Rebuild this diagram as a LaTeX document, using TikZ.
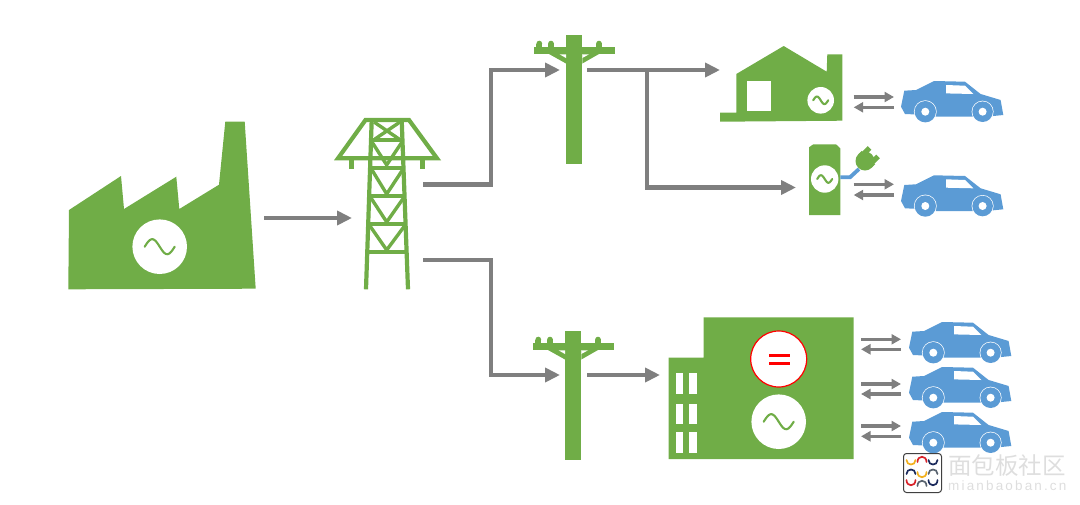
\documentclass[tikz,border=0pt]{standalone}
\usepackage{fontspec}
\newfontfamily\cjkfont{Noto Sans CJK SC}
\setsansfont{Liberation Sans}
\usetikzlibrary{arrows.meta}
\definecolor{gridgreen}{HTML}{70AD47}
\definecolor{carblue}{HTML}{5B9BD5}
\definecolor{flowgrey}{HTML}{7F7F7F}
\definecolor{markgrey}{HTML}{DEDEDE}
\definecolor{logonavy}{HTML}{1B2A5C}
\definecolor{logored}{HTML}{D8232A}
\definecolor{logoyellow}{HTML}{F2B01E}
\definecolor{logogrey}{HTML}{5A6470}
\tikzset{
  mainflow/.style={draw=flowgrey,line width=4.6pt,-{Triangle[length=15pt,width=14pt]}},
  smallflow/.style={draw=flowgrey,line width=3.2pt,-{Triangle[length=9.5pt,width=10pt]}},
  greenshape/.style={fill=gridgreen,draw=none},
  acdisc/.style={circle,fill=white,draw=none,inner sep=0pt},
  strut/.style={draw=gridgreen,line width=4.2pt,line cap=butt,line join=miter},
  brace/.style={draw=gridgreen,line width=3.4pt,line cap=butt,line join=miter},
  logoarc/.style={line width=1.7pt,line cap=round},
  acwave/.pic={
    \draw[gridgreen,line width=2.1pt,line cap=round]
      plot[domain=-15:15,samples=41,smooth] (\x,{7.5*sin(\x*12)});
  },
  utilitypole/.pic={
    \fill[gridgreen] (566,35) rectangle (582.3,164);
    \fill[gridgreen] (534,46.7) rectangle (615,54.3);
    \foreach \bx in {539.3,551,599}{
      \fill[gridgreen] (\bx-2.9,43.6) rectangle (\bx+2.9,47);
      \fill[gridgreen] (\bx,43.6) circle[radius=2.9];
    }
    \fill[gridgreen] (549,54) -- (566,63.5) -- (566,54) -- cycle;
    \fill[gridgreen] (599,54) -- (582.3,63.5) -- (582.3,54) -- cycle;
    \fill[white] (559.5,54.3) -- (566,54.3) -- (566,58) -- cycle;
    \fill[white] (589,54.3) -- (582.3,54.3) -- (582.3,58) -- cycle;
  },
  evcar/.pic={
    \fill[carblue] (-24.3,-5) -- (-21,-21) -- (-9.3,-21.7) -- (8.7,-30.7) -- (39.7,-30)
      -- (55.3,-17.7) -- (75.3,-11.7) -- (78,3.3) -- (68,4.3) -- (48,5) -- (10.3,5)
      -- (-11.3,2.7) -- (-20.3,2.3) -- cycle;
    \fill[white] (20.7,-26.7) -- (39.7,-26) -- (48,-17.7) -- (20.7,-18.3) -- cycle;
    \fill[white] (0,0) circle[radius=11.4];
    \fill[white] (57.3,0) circle[radius=11];
    \fill[carblue] (0,0) circle[radius=10.7];
    \fill[carblue] (57.3,0) circle[radius=10.3];
    \fill[white] (0,0) circle[radius=4];
    \fill[white] (57.3,0) circle[radius=4];
  }
}
% A half-wave stroke of the publisher mark: colour, left x, y, bulge (negative = upward)
\newcommand{\markstroke}[4]{%
  \draw[logoarc,#1] (#2,#3) .. controls (#2,#3+#4) and (#2+9,#3+#4) .. (#2+9,#3);%
}
\begin{document}
\begin{tikzpicture}[x=1pt,y=-1pt]
\useasboundingbox (0,0) rectangle (1080,504);

% Generating plant
\fill[greenshape] (68.3,289.3) -- (69,210) -- (121,176) -- (124,209) -- (176.3,176.7)
  -- (179.3,209) -- (219,184.7) -- (225.3,121.7) -- (244.7,121.7) -- (255.7,288.7) -- cycle;
\node[acdisc,minimum size=54.6pt] (plantdisc) at (159.7,246.7) {};
\pic at (plantdisc.center) {acwave};

% Transmission tower
\draw[strut,line join=miter] (338,158.3) -- (365.5,120) -- (409,120) -- (437,158.3) -- cycle;
\fill[gridgreen] (349,160) rectangle (354,168.5);
\fill[gridgreen] (420,160) rectangle (425,168.5);
\draw[strut] (371.7,120) -- (366,289.3);
\draw[strut] (401.7,120) -- (408,289.3);
\draw[strut] (371.3,140) -- (402.5,140);
\draw[strut] (370,168.3) -- (403.5,168.3);
\draw[strut] (369,196) -- (404.5,196);
\draw[strut] (368.3,224) -- (405.5,224);
\draw[strut] (367.3,251.7) -- (406.5,251.7);
\draw[brace] (374,122) -- (399,139);
\draw[brace] (400,122) -- (375,139);
\draw[brace] (372,142) -- (386.7,165) -- (402,142);
\draw[brace] (372,170) -- (386.7,194) -- (402.5,170);
\draw[brace] (371,198) -- (386.7,222) -- (403.5,198);
\draw[brace] (370,226) -- (386.7,250) -- (404.5,226);

% Distribution poles
\pic {utilitypole};
\pic[shift={(-1,296)}] {utilitypole};

% House with wall socket
\fill[greenshape] (720,121.7) -- (720,112.7) -- (736.3,112.7) -- (736.3,74) -- (783.7,46)
  -- (826.7,71.7) -- (827.3,54.3) -- (842.3,54.3) -- (842.3,120.7) -- cycle;
\fill[white] (747.3,81) rectangle (770.7,111);
\node[acdisc,minimum size=26.6pt] (housedisc) at (820.7,100.3) {};
\pic[scale=.5] at (housedisc.center) {acwave};

% Charging post with cable and plug
\fill[greenshape] (809,215) -- (809,147.3) -- (813.3,144.3) -- (836,144.3) -- (840.3,148.3)
  -- (840.3,215) -- cycle;
\node[acdisc,minimum size=27.4pt] (postdisc) at (824.7,179) {};
\pic[scale=.5] at (postdisc.center) {acwave};
\coordinate (cablestart) at (840.3,177.3);
\coordinate (cablebend) at (850,177.3);
\coordinate (cableend) at (859,169);
\draw[carblue,line width=3.8pt] (cablestart) -- (cablebend) -- (cableend);
\begin{scope}[shift={(865,161)},rotate=45]
  \fill[gridgreen] (0,0) circle[radius=9.5];
  \fill[gridgreen] (0,-9.5) rectangle (5,9.5);
  \fill[gridgreen] (5,-8.5) rectangle (12.5,-3.5);
  \fill[gridgreen] (5,3.5) rectangle (12.5,8.5);
\end{scope}

% Charging station building
\fill[greenshape] (668.7,459) -- (668.7,357.7) -- (703.7,357.7) -- (703.7,317.3)
  -- (853.7,317.3) -- (853.7,459) -- cycle;
\foreach \wy in {373.3,403.7,432}{
  \fill[white] (675.7,\wy) rectangle (682.7,\wy+20.5);
  \fill[white] (689.3,\wy) rectangle (696.7,\wy+20.5);
}
\node[circle,fill=white,draw=red,line width=1.2pt,inner sep=0pt,minimum size=56pt] (dcdisc) at (778.7,359) {};
\fill[red] (769.3,354.3) rectangle (790.3,357);
\fill[red] (769.3,361.7) rectangle (790.3,364.7);
\node[acdisc,minimum size=54.6pt] (acdisc) at (778.7,421.7) {};
\pic at (acdisc.center) {acwave};

% Vehicles
\pic at (925.3,111.7) {evcar};
\pic at (925.3,206) {evcar};
\pic at (933.3,352.7) {evcar};
\pic at (933.3,397.7) {evcar};
\pic at (933.3,442.7) {evcar};

% Power flow connection points
\coordinate (plantout) at (264,218);
\coordinate (towerin) at (352,218);
\coordinate (towerA) at (423,184.5);
\coordinate (bendA1) at (491,184.5);
\coordinate (bendA2) at (491,70);
\coordinate (poleAin) at (560,70);
\coordinate (towerB) at (423,260);
\coordinate (bendB1) at (491,260);
\coordinate (bendB2) at (491,375);
\coordinate (poleBin) at (560,375);
\coordinate (poleAout) at (587,70);
\coordinate (housein) at (720,70);
\coordinate (tap) at (647,70);
\coordinate (tapbend) at (647,187.5);
\coordinate (postin) at (796,187.5);
\coordinate (poleBout) at (587,375);
\coordinate (stationin) at (660,375);

\draw[mainflow] (plantout) -- (towerin);
\draw[mainflow] (towerA) -- (bendA1) -- (bendA2) -- (poleAin);
\draw[mainflow] (towerB) -- (bendB1) -- (bendB2) -- (poleBin);
\draw[mainflow] (poleAout) -- (housein);
\draw[mainflow] (tap) -- (tapbend) -- (postin);
\draw[mainflow] (poleBout) -- (stationin);

% Two-way exchange with each vehicle
\foreach \nm/\xa/\xb/\ya/\yb in {h/853.7/894/97/107.3,p/853.7/894/184.3/195,
    s/861/901/339.3/349.3,t/861/901/384/394,u/861/901/426/436.3}{
  \coordinate (\nm a) at (\xa,\ya);
  \coordinate (\nm b) at (\xb,\ya);
  \coordinate (\nm c) at (\xb,\yb);
  \coordinate (\nm d) at (\xa,\yb);
  \draw[smallflow] (\nm a) -- (\nm b);
  \draw[smallflow] (\nm c) -- (\nm d);
}

% Publisher mark
\node[draw=black!75,line width=1pt,fill=white,rounded corners=3pt,minimum width=38pt,minimum height=39pt,inner sep=0pt] (logo) at (922.5,473) {};
\markstroke{logoyellow}{906.5}{460}{6}
\markstroke{logored}{917.5}{462}{-7}
\markstroke{logonavy}{928.5}{460}{6}
\markstroke{logonavy}{906.5}{474}{-6}
\markstroke{logoyellow}{917.5}{472}{7}
\markstroke{logogrey}{928.5}{474}{-6}
\markstroke{logored}{906.5}{480}{7}
\markstroke{logogrey}{917.5}{486}{-7}
\markstroke{logonavy}{928.5}{480}{7}
\node[text=markgrey,font=\cjkfont\fontsize{23.5}{23.5}\selectfont,inner sep=0pt,anchor=west] (markcn) at (948,465.5) {面包板社区};
\node[text=markgrey,font=\sffamily\fontsize{13.5}{13.5}\selectfont\addfontfeature{LetterSpace=16},inner sep=0pt,anchor=west] (markurl) at (948,486) {mianbaoban.cn};
\end{tikzpicture}
\end{document}
